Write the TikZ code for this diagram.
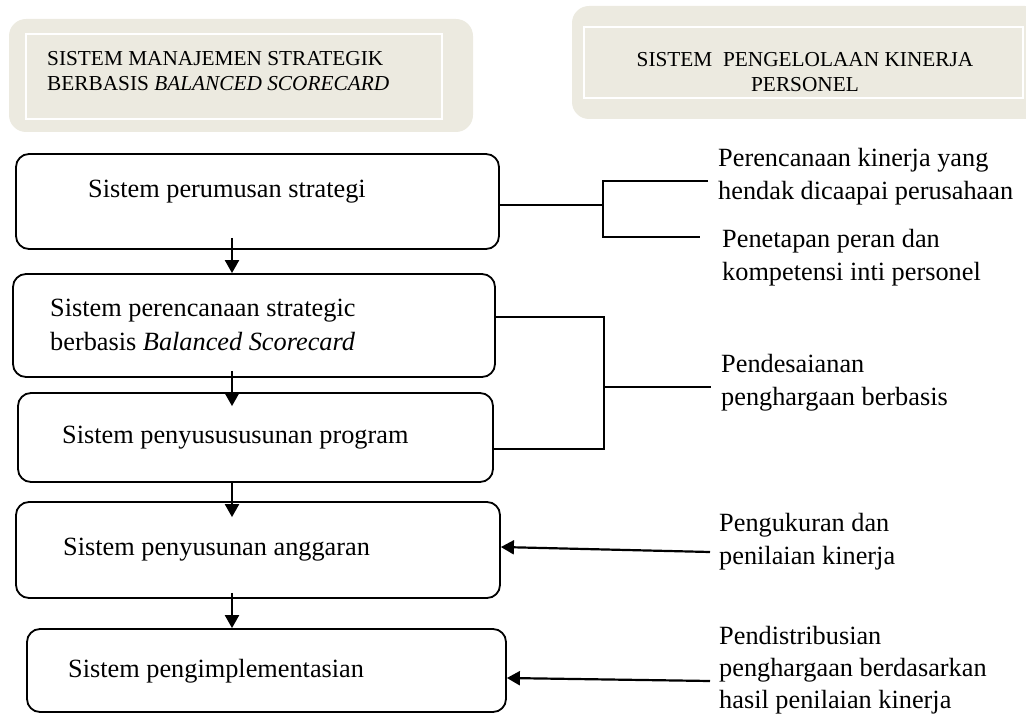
\documentclass[tikz,border=0pt]{standalone}
\usepackage{fontspec}
\setmainfont{Liberation Serif}
\usetikzlibrary{arrows.meta,calc}
\definecolor{hdrfill}{RGB}{236,234,224}
\begin{document}
\begin{tikzpicture}[x=1pt,y=-1pt,
  hdrouter/.style={fill=hdrfill, draw=none, rounded corners=17pt, inner sep=0pt},
  hdrinner/.style={fill=hdrfill, draw=white, line width=1.6pt, inner sep=0pt},
  hdrtext/.style={font=\fontsize{21.3}{25}\selectfont, inner sep=0pt},
  flowbox/.style={draw=black, fill=white, line width=1.8pt, rounded corners=13pt, inner sep=0pt},
  boxtext/.style={font=\fontsize{26.3}{34}\selectfont, inner sep=0pt, align=left},
  lbltext/.style={font=\fontsize{26.3}{33}\selectfont, inner sep=0pt, align=left, anchor=west},
  conn/.style={draw=black, line width=1.8pt},
  arr/.style={draw=black, line width=2.2pt, -{Triangle[length=13pt,width=14pt]}}]
\useasboundingbox (0,0) rectangle (1026,714);
\clip (0,0) rectangle (1026,714);
% headers
\node[hdrouter, minimum width=464pt, minimum height=113pt] (h1) at (241,75.5) {};
\node[hdrinner, minimum width=416pt, minimum height=85pt] (h1i) at (234,76.5) {};
\node[hdrtext, anchor=west, align=left] (h1t) at (47,71) {SISTEM MANAJEMEN STRATEGIK\\BERBASIS \textit{BALANCED SCORECARD}};
\node[hdrouter, minimum width=470pt, minimum height=113pt] (h2) at (807,62.5) {};
\node[hdrinner, minimum width=439pt, minimum height=71pt] (h2i) at (803.5,62.5) {};
\node[hdrtext, align=center] (h2t) at (805,72) {SISTEM\ \ PENGELOLAAN KINERJA\\PERSONEL};
% flow boxes
\node[flowbox, minimum width=483pt, minimum height=95pt] (b1) at (257.5,201.5) {};
\node[flowbox, minimum width=482pt, minimum height=103pt] (b2) at (254,325.5) {};
\node[flowbox, minimum width=475pt, minimum height=89pt] (b3) at (255.5,437.5) {};
\node[flowbox, minimum width=484pt, minimum height=96pt] (b4) at (258,550) {};
\node[flowbox, minimum width=479pt, minimum height=83pt] (b5) at (266.5,670.5) {};
\node[boxtext, anchor=base west] (t1) at (88,198) {Sistem perumusan strategi};
\node[boxtext, anchor=west] (t2) at (50,325) {Sistem perencanaan strategic\\berbasis \textit{Balanced Scorecard}};
\node[boxtext, anchor=base west] (t3) at (62,443) {Sistem penyusususunan program};
\node[boxtext, anchor=base west] (t4) at (63,555) {Sistem penyusunan anggaran};
\node[boxtext, anchor=base west] (t5) at (68,677) {Sistem pengimplementasian};
% vertical arrows
\coordinate (ax) at (232,0);
\draw[arr] ([yshift=12pt]b1.south -| ax) -- (b2.north -| ax);
\draw[arr] ([yshift=7pt]b2.south -| ax) -- ([yshift=-14pt]b3.north -| ax);
\draw[arr] (b3.south -| ax) -- ([yshift=-16pt]b4.north -| ax);
\draw[arr] ([yshift=6pt]b4.south -| ax) -- (b5.north -| ax);
% right labels
\node[lbltext] (L1) at (718,177) {Perencanaan kinerja yang\\hendak dicaapai perusahaan};
\node[lbltext] (L2) at (722,258) {Penetapan peran dan\\kompetensi inti personel};
\node[lbltext] (L3) at (721,383) {Pendesaianan\\penghargaan berbasis};
\node[lbltext] (L4) at (719,542) {Pengukuran dan\\penilaian kinerja};
\node[lbltext, font=\fontsize{26.3}{32}\selectfont] (L5) at (719,670) {Pendistribusian\\penghargaan berdasarkan\\hasil penilaian kinerja};
% bracket 1
\coordinate (k1) at (603,205);
\coordinate (k1t) at (603,181);
\coordinate (k1b) at (603,237);
\coordinate (e1t) at (708,181);
\coordinate (e1b) at (700,237);
\draw[conn] ([yshift=-3.5pt]b1.east) -- (k1);
\draw[conn] (e1t) -- (k1t) -- (k1b) -- (e1b);
% bracket 2
\coordinate (k2t) at (604,317);
\coordinate (k2b) at (604,449);
\coordinate (k2m) at (604,387);
\coordinate (e2m) at (711,387);
\draw[conn] ([yshift=8.5pt]b2.east) -- (k2t) -- (k2b) -- ([yshift=-11.5pt]b3.east);
\draw[conn, line width=2.6pt] (k2m) -- (e2m);
% incoming arrows
\coordinate (s4) at (710,552);
\coordinate (s5) at (710,681);
\draw[arr] (s4) -- ([yshift=3pt]b4.east);
\draw[arr] (s5) -- ([yshift=-7.5pt]b5.east);
\end{tikzpicture}
\end{document}
